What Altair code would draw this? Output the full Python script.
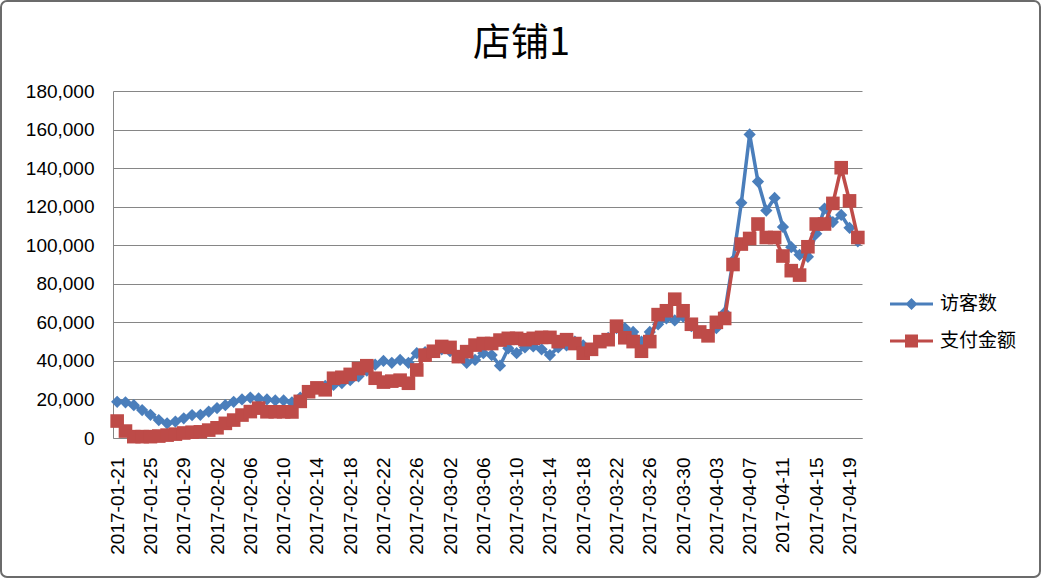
import altair as alt
import pandas as pd

dates = [d.strftime("%Y-%m-%d") for d in pd.date_range("2017-01-21", "2017-04-20", freq="D")]

visitors = [
    18800, 18500, 17000, 14500, 12000, 9300, 7600, 8500, 10200, 11900,
    12000, 13700, 15500, 17000, 18800, 20000, 21000, 20500, 20000, 19500,
    19500, 18500, 21000, 24000, 26000, 27000, 27500, 28500, 30000, 32000,
    35000, 38000, 40000, 39000, 40500, 39000, 44000, 44500, 45000, 46000,
    45000, 42000, 39000, 40500, 44000, 43000, 37500, 46500, 44000, 47000,
    47500, 46000, 43000, 47000, 48000, 50000, 48000, 46000, 50000, 52000,
    57000, 57000, 55000, 50000, 55000, 59000, 62000, 61000, 63000, 58000,
    55000, 53000, 57000, 65000, 92000, 122000, 157500, 133000, 118000, 124500,
    109500, 99000, 95000, 94000, 106000, 119000, 112000, 115700, 109000, 102000,
]

payments = [
    8800, 3600, 700, 700, 700, 1000, 1500, 2000, 2600, 3000,
    3200, 4100, 5300, 7600, 9300, 11900, 13700, 15500, 13600, 13600,
    13600, 13500, 19000, 24000, 26000, 25000, 31000, 31500, 33000, 36000,
    37500, 31000, 29000, 29500, 30000, 28400, 35300, 43000, 45000, 47500,
    47000, 42200, 44800, 48200, 49000, 49000, 50800, 51700, 51700, 51000,
    51700, 52200, 52200, 50000, 51000, 49000, 44000, 46000, 50000, 51000,
    58000, 52000, 50000, 45000, 50000, 64000, 66000, 72000, 66000, 59000,
    55000, 53000, 60000, 62000, 90000, 100600, 103500, 111000, 104000, 104000,
    94400, 86800, 84500, 99200, 111000, 111000, 121700, 140200, 123000, 104000,
]

title_text = ["店铺1"]
series_names = ["访客数", "支付金额"]
series_colors = ["#4A7EBB", "#BE4B48"]
tick_dates = dates[::4]
y_ticks = list(range(0, 180001, 20000))

df = pd.DataFrame({
    "date": dates * 2,
    "value": visitors + payments,
    "series": [series_names[0]] * len(dates) + [series_names[1]] * len(dates),
})

LABEL_FONT = "Liberation Sans"
GRID = "#868686"
W, H = 749, 347

x_enc = alt.X(
    "date:O",
    title=None,
    scale=alt.Scale(type="point", padding=0.5),
    axis=alt.Axis(
        values=tick_dates, labelAngle=-90, labelFont=LABEL_FONT, labelFontSize=19,
        labelColor="black", labelPadding=19, ticks=False, grid=False,
        domainColor=GRID, domainWidth=1,
    ),
)
y_enc = alt.Y(
    "value:Q",
    title=None,
    scale=alt.Scale(domain=[0, 180000], nice=False),
    axis=alt.Axis(
        values=y_ticks, format=",.0f", labelFont=LABEL_FONT, labelFontSize=19,
        labelColor="black", labelPadding=19, ticks=False, grid=True,
        gridColor=GRID, gridWidth=1, domainColor=GRID, domainWidth=1,
    ),
)

base = alt.Chart(df)

blue = base.transform_filter(alt.datum.series == series_names[0])
red = base.transform_filter(alt.datum.series == series_names[1])

blue_line = blue.mark_line(color=series_colors[0], strokeWidth=3.5).encode(x=x_enc, y=y_enc)
blue_pts = blue.mark_point(shape="diamond", filled=True, size=150, opacity=1,
                           color=series_colors[0]).encode(x=x_enc, y=y_enc)
red_line = red.mark_line(color=series_colors[1], strokeWidth=3.5).encode(x=x_enc, y=y_enc)
red_pts = red.mark_point(shape="square", filled=True, size=185, opacity=1,
                         color=series_colors[1]).encode(x=x_enc, y=y_enc)

legend_paths = [
    "M-2.15,-0.16H2.15V0.16H-2.15Z M0,-0.6L0.6,0L0,0.6L-0.6,0Z",
    "M-2.15,-0.16H2.15V0.16H-2.15Z M-0.65,-0.65H0.65V0.65H-0.65Z",
]
leg = alt.Legend(
    title=None, orient="none", legendX=788.5, legendY=203,
    symbolSize=400, symbolOpacity=1, symbolStrokeWidth=0,
    labelFont="Noto Sans CJK SC", labelFontSize=19, labelColor="black",
    labelOffset=18.5, rowPadding=17,
)
legend_layer = base.mark_point(filled=True, opacity=0, size=0).encode(
    x=x_enc, y=y_enc,
    color=alt.Color("series:N", scale=alt.Scale(domain=series_names, range=series_colors), legend=leg),
    shape=alt.Shape("series:N", scale=alt.Scale(domain=series_names, range=legend_paths), legend=leg),
)

frame = alt.Chart(pd.DataFrame({"k": [0]})).mark_rect(
    filled=False, stroke="#6b6b6b", strokeWidth=2, cornerRadius=6
).encode(
    x=alt.value(-112), x2=alt.value(W + 178),
    y=alt.value(-90), y2=alt.value(H + 139),
)

title = alt.Chart(pd.DataFrame({"t": title_text})).mark_text(
    font="Noto Sans CJK SC", fontSize=38, fontWeight="normal", color="black",
    align="center", baseline="middle",
).encode(text="t:N", x=alt.value(W / 2 + 34), y=alt.value(-47))

chart = alt.layer(frame, title, blue_line, blue_pts, red_line, red_pts, legend_layer).properties(
    width=W,
    height=H,
    autosize=alt.AutoSizeParams(type="none"),
    padding={"left": 113, "top": 91, "right": 180, "bottom": 140},
    background="white",
).configure_view(stroke=None)

chart.save("out.html", embed_options={"renderer": "svg", "actions": False})
